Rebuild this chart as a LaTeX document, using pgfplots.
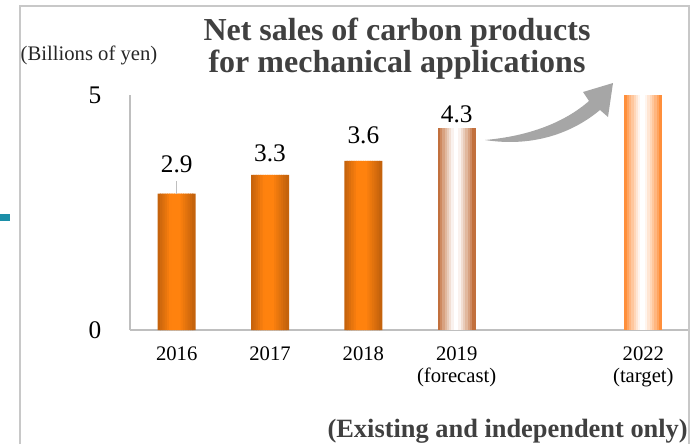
\documentclass[border=0pt]{standalone}
\usepackage{pgfplots}
\pgfplotsset{compat=1.18}
\usepackage{fontspec}
\setmainfont{Liberation Serif}
\definecolor{barE}{HTML}{C0600C}
\definecolor{barM}{HTML}{FF820E}
\definecolor{fcEdge}{HTML}{BA5C22}
\definecolor{tgEdge}{HTML}{FF8020}
\definecolor{titlegray}{HTML}{404040}
\definecolor{axgray}{HTML}{BFBFBF}
\definecolor{framegray}{HTML}{C8C8C8}
\definecolor{arrowgray}{HTML}{A6A6A6}
\definecolor{myteal}{HTML}{1C8FA8}
\begin{document}
\begin{tikzpicture}
\foreach \k in {0,...,15}{
  \pgfmathsetmacro\tpos{(\k+0.5)/16}
  \pgfmathsetmacro\pO{100*min(1,\tpos/0.35,(1-\tpos)/0.4)}
  \pgfmathsetmacro\pW{100*min(1,((1-abs(2*\tpos-1))/0.9)^0.8)}
  \edef\tmp{\noexpand\xglobal\noexpand\colorlet{orS\k}{barM!\pO!barE}%
    \noexpand\xglobal\noexpand\colorlet{fcS\k}{white!\pW!fcEdge}%
    \noexpand\xglobal\noexpand\colorlet{tgS\k}{white!\pW!tgEdge}}%
  \tmp
}
\useasboundingbox (0,0) rectangle (522pt,333pt);
\begin{axis}[
  at={(97.5pt,85.5pt)}, anchor=south west,
  scale only axis, width=420pt, height=176.25pt,
  xmin=-0.5, xmax=5.5, ymin=0, ymax=5,
  axis x line=bottom, axis y line=left,
  axis line style={axgray, line width=1pt, -},
  xtick={0,1,2,3,5},
  xticklabels={2016,2017,2018,{2019\\(forecast)},{2022\\(target)}},
  xticklabel style={align=center, font=\fontsize{15.5}{16.5}\selectfont, yshift=-8.75pt},
  ytick={0,5},
  /pgf/number format/assume math mode=true,
  yticklabel style={font=\fontsize{19}{20}\selectfont, xshift=-18pt},
  major tick length=0pt,
  ybar, bar width=28.5pt, bar shift=0pt,
  clip=false,
]
\pgfplotsinvokeforeach{0,...,15}{
  \addplot[draw=none, fill=orS#1, bar width=2.6pt, bar shift={(#1-7.5)*1.72667pt}]
    coordinates {(0,2.9) (1,3.3) (2,3.6)};
  \addplot[draw=none, fill=fcS#1, bar width=2.6pt, bar shift={(#1-7.5)*1.72667pt}]
    coordinates {(3,4.3)};
  \addplot[draw=none, fill=tgS#1, bar width=2.6pt, bar shift={(#1-7.5)*1.72667pt}]
    coordinates {(5,5.0)};
}
\addplot[draw=none, fill=none, nodes near coords,
  every node near coord/.append style={anchor=base, yshift=15.75pt, text=black, font=\fontsize{19}{20}\selectfont}]
  coordinates {(0,2.9)};
\addplot[draw=none, fill=none, nodes near coords,
  every node near coord/.append style={anchor=base, yshift=9.75pt, text=black, font=\fontsize{19}{20}\selectfont}]
  coordinates {(1,3.3)};
\addplot[draw=none, fill=none, nodes near coords,
  every node near coord/.append style={anchor=base, yshift=12.75pt, text=black, font=\fontsize{19}{20}\selectfont}]
  coordinates {(2,3.6)};
\addplot[draw=none, fill=none, nodes near coords,
  every node near coord/.append style={anchor=base, yshift=3.75pt, text=black, font=\fontsize{19}{20}\selectfont}]
  coordinates {(3,4.3)};
\draw[axgray, line width=1pt] (axis cs:0,2.9) -- (axis cs:0,3.18);
\end{axis}
\begin{scope}[x=0.75pt, y=-0.75pt, shift={(0pt,333pt)}]
  \draw[framegray, line width=1pt] (20,444) -- (20,6) -- (689,6) -- (689,444);
  \fill[myteal] (0,214) rectangle (10,221);
  \node[anchor=base, inner sep=0, font=\fontsize{24}{28}\selectfont\bfseries, text=titlegray] at (397,41) {Net sales of carbon products};
  \node[anchor=base, inner sep=0, font=\fontsize{24}{28}\selectfont\bfseries, text=titlegray] at (397,72) {for mechanical applications};
  \node[anchor=base, inner sep=0, font=\fontsize{15.5}{18}\selectfont, text=black!85] at (89,60) {(Billions of yen)};
  \node[anchor=base east, inner sep=0, font=\fontsize{19.8}{22}\selectfont\bfseries, text=titlegray] at (688,437) {(Existing and independent only)};
  \fill[arrowgray] (485,140) .. controls (530,136) and (565,122) .. (589,101)
     -- (583,92) -- (613,83) -- (608,117) -- (600,110)
     .. controls (570,135) and (530,147) .. (485,140) -- cycle;
\end{scope}
\end{tikzpicture}
\end{document}
